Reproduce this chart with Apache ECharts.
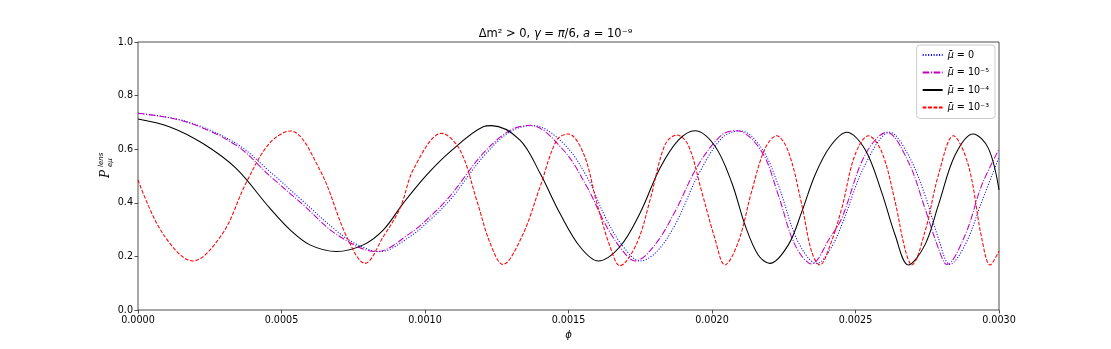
<!DOCTYPE html>
<html>
<head>
<meta charset="utf-8">
<script src="https://cdn.jsdelivr.net/npm/echarts@6/dist/echarts.min.js"></script>
<style>html,body{margin:0;padding:0;background:#fff}#c{width:1111px;height:349px}</style>
</head>
<body>
<div id="c"></div>
<script>
// Tick values
const xTicks = [0, 0.0005, 0.0010, 0.0015, 0.0020, 0.0025, 0.0030];
const yTicks = [0.0, 0.2, 0.4, 0.6, 0.8, 1.0];
const seriesNames = ['μ̄ = 0', 'μ̄ = 10⁻⁵', 'μ̄ = 10⁻⁴', 'μ̄ = 10⁻³'];

// mu = 0 (blue dotted)
const mu0 = [
  [0, 0.734], [0.000167, 0.704], [0.000341, 0.622], [0.00046, 0.516], [0.000576, 0.405],
  [0.000692, 0.295], [0.000762, 0.245], [0.000843, 0.218], [0.000948, 0.274], [0.001017, 0.336],
  [0.001087, 0.41], [0.001203, 0.572], [0.001296, 0.665], [0.001377, 0.688], [0.001482, 0.622],
  [0.001564, 0.497], [0.001633, 0.336], [0.001691, 0.236], [0.001749, 0.183], [0.001805, 0.215],
  [0.001871, 0.317], [0.001952, 0.504], [0.002034, 0.641], [0.002098, 0.669], [0.002173, 0.603],
  [0.002231, 0.466], [0.002289, 0.28], [0.002336, 0.193], [0.002365, 0.174], [0.002411, 0.225],
  [0.002452, 0.317], [0.002533, 0.541], [0.00262, 0.663], [0.002684, 0.578], [0.002742, 0.429],
  [0.002789, 0.267], [0.002829, 0.170], [0.002882, 0.243], [0.00294, 0.404], [0.003, 0.57]
];
// mu = 1e-5 (magenta dash-dot)
const mu5 = [
  [0, 0.734], [0.000167, 0.702], [0.000341, 0.615], [0.00046, 0.500], [0.000576, 0.392],
  [0.000692, 0.282], [0.000832, 0.218], [0.000948, 0.286], [0.001017, 0.348], [0.001087, 0.425],
  [0.001203, 0.585], [0.001296, 0.670], [0.001366, 0.689], [0.001482, 0.597], [0.001564, 0.460],
  [0.001633, 0.311], [0.001691, 0.218], [0.001732, 0.183], [0.001801, 0.243], [0.001871, 0.367],
  [0.001952, 0.541], [0.002034, 0.653], [0.002086, 0.669], [0.002173, 0.591], [0.002231, 0.429],
  [0.002289, 0.243], [0.002347, 0.172], [0.002411, 0.27], [0.002452, 0.342], [0.002533, 0.578],
  [0.002609, 0.663], [0.002684, 0.553], [0.002742, 0.379], [0.002789, 0.230], [0.002818, 0.170],
  [0.002882, 0.280], [0.00294, 0.466], [0.003, 0.60]
];
// mu = 1e-4 (black solid)
const mu4 = [
  [0, 0.713], [0.000109, 0.684], [0.000225, 0.622], [0.000341, 0.529], [0.00046, 0.379],
  [0.00053, 0.299], [0.000599, 0.243], [0.000692, 0.218], [0.000785, 0.243], [0.000855, 0.299],
  [0.000924, 0.398], [0.001006, 0.504], [0.001087, 0.590], [0.001203, 0.684], [0.001232, 0.688],
  [0.001331, 0.634], [0.001401, 0.510], [0.00147, 0.361], [0.00154, 0.236], [0.001604, 0.183],
  [0.001679, 0.236], [0.001749, 0.361], [0.001819, 0.530], [0.001883, 0.634], [0.001941, 0.669],
  [0.00201, 0.612], [0.002069, 0.475], [0.002115, 0.317], [0.002161, 0.205], [0.002202, 0.174],
  [0.002266, 0.243], [0.002313, 0.367], [0.002359, 0.504], [0.002411, 0.609], [0.002469, 0.663],
  [0.002533, 0.600], [0.002591, 0.440], [0.002638, 0.280], [0.002684, 0.168], [0.002742, 0.243],
  [0.002789, 0.392], [0.002847, 0.578], [0.00291, 0.657], [0.002963, 0.603], [0.003, 0.448]
];
// mu = 1e-3 (red dashed)
const mu3 = [
  [0, 0.485], [0.000086, 0.286], [0.000191, 0.183], [0.000295, 0.286], [0.000376, 0.473],
  [0.000458, 0.622], [0.000531, 0.668], [0.000634, 0.522], [0.000727, 0.274],
  [0.000791, 0.174], [0.000855, 0.274], [0.000913, 0.38], [0.000962, 0.53], [0.001058, 0.659],
  [0.001122, 0.597], [0.00118, 0.41], [0.001227, 0.249], [0.001271, 0.170], [0.001338, 0.275],
  [0.001401, 0.460], [0.001459, 0.634], [0.001499, 0.657], [0.001552, 0.585], [0.001599, 0.398],
  [0.001645, 0.236], [0.001679, 0.165], [0.001738, 0.249], [0.001784, 0.41], [0.001836, 0.616],
  [0.001877, 0.653], [0.001917, 0.616], [0.001964, 0.442], [0.00201, 0.267], [0.002045, 0.168],
  [0.002092, 0.255], [0.002138, 0.442], [0.002185, 0.603], [0.002225, 0.650], [0.002266, 0.591],
  [0.002313, 0.392], [0.002347, 0.218], [0.002376, 0.168], [0.002411, 0.24], [0.002452, 0.379],
  [0.002498, 0.578], [0.002545, 0.650], [0.002591, 0.591], [0.002638, 0.404], [0.002672, 0.230],
  [0.002696, 0.168], [0.002742, 0.292], [0.002789, 0.504], [0.002841, 0.650], [0.002893, 0.541],
  [0.00294, 0.267], [0.002969, 0.168], [0.003, 0.22]
];

const FONT = 'DejaVu Sans';
const chart = echarts.init(document.getElementById('c'), null, {renderer: 'canvas'});

function mkSeries(name, data, color, dash, width) {
  return {
    name: name, type: 'line', data: data, smooth: 0.35, symbol: 'none', showSymbol: false,
    lineStyle: {color: color, width: width, type: dash, cap: 'butt'},
    itemStyle: {color: color}, animation: false, z: 3
  };
}

const option = {
  animation: false,
  backgroundColor: '#fff',
  title: {
    text: '{n|Δm² > 0, }{i|γ}{n| = }{i|π}{n|/6, }{i|a}{n| = 10⁻⁹}',
    left: 'center', top: 23,
    textStyle: {
      fontWeight: 'normal',
      rich: {
        n: {fontFamily: FONT, fontSize: 11.5, fontWeight: 'normal', color: '#000'},
        i: {fontFamily: FONT, fontSize: 11.5, fontWeight: 'normal', fontStyle: 'italic', color: '#000'}
      }
    }
  },
  grid: {left: 138, right: 112, top: 42, bottom: 39, show: true, borderColor: '#222', borderWidth: 0.8, backgroundColor: 'transparent'},
  legend: {
    orient: 'vertical', right: 116, top: 45,
    data: seriesNames,
    itemWidth: 20, itemHeight: 10, itemGap: 7.5,
    padding: [5, 6, 6, 5],
    borderColor: '#ccc', borderWidth: 1, borderRadius: 3,
    backgroundColor: 'rgba(255,255,255,0.85)',
    itemStyle: {opacity: 0},
    formatter: function (n) {
      return '{i|μ̄}{n|' + n.slice(2) + '}';
    },
    textStyle: {
      fontFamily: FONT, fontSize: 9.6, color: '#000',
      rich: {
        i: {fontFamily: FONT, fontSize: 9.6, fontStyle: 'italic', color: '#000'},
        n: {fontFamily: FONT, fontSize: 9.6, color: '#000'}
      }
    }
  },
  xAxis: {
    type: 'value', min: 0, max: 0.003, interval: 0.0005,
    name: 'ϕ', nameLocation: 'middle', nameGap: 20,
    nameTextStyle: {fontFamily: FONT, fontSize: 10, fontStyle: 'italic', color: '#000'},
    axisLine: {show: false},
    axisTick: {show: true, length: 3.5, lineStyle: {color: '#222', width: 0.8}},
    splitLine: {show: false},
    axisLabel: {
      margin: 5, fontFamily: FONT, fontSize: 9.6, color: '#000',
      formatter: function (v) { return v.toFixed(4); }
    }
  },
  yAxis: {
    type: 'value', min: 0, max: 1, interval: 0.2,
    axisLine: {show: false},
    axisTick: {show: true, length: 3.5, lineStyle: {color: '#222', width: 0.8}},
    splitLine: {show: false},
    axisLabel: {
      margin: 5, fontFamily: FONT, fontSize: 9.6, color: '#000',
      formatter: function (v) { return v.toFixed(1); }
    }
  },
  graphic: [{
    type: 'group', x: 106, y: 166, rotation: Math.PI / 2,
    children: [
      {type: 'text', x: -8, y: 0, style: {text: 'P', fontFamily: 'DejaVu Serif', fontStyle: 'italic', fontSize: 12, fill: '#000', textAlign: 'center', textVerticalAlign: 'middle'}},
      {type: 'text', x: -1, y: -4.5, style: {text: 'lens', fontFamily: FONT, fontStyle: 'italic', fontSize: 7, fill: '#000', textAlign: 'left', textVerticalAlign: 'middle'}},
      {type: 'text', x: -1, y: 4, style: {text: 'eμ', fontFamily: FONT, fontStyle: 'italic', fontSize: 7, fill: '#000', textAlign: 'left', textVerticalAlign: 'middle'}}
    ]
  }],
  series: [
    mkSeries(seriesNames[0], mu0, '#0000ff', [1.04, 1.7], 1.05),
    mkSeries(seriesNames[1], mu5, '#bf00bf', [6.6, 1.66, 1.04, 1.66], 1.05),
    mkSeries(seriesNames[2], mu4, '#000000', 'solid', 1.05),
    mkSeries(seriesNames[3], mu3, '#ff0000', [3.8, 1.65], 1.05)
  ]
};
chart.setOption(option);
</script>
</body>
</html>
